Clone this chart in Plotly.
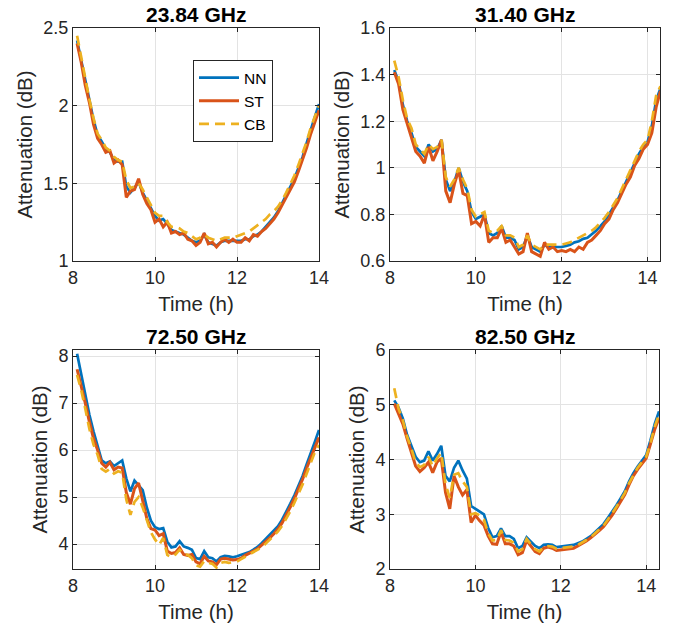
import numpy as np
import plotly.graph_objects as go

# ---- sample times (hours) ----
t_a = np.round(np.arange(8.1, 14.0001, 0.1), 2)   # 23.84 / 72.50 GHz runs
t_b = np.round(np.arange(8.1, 14.3001, 0.1), 2)   # 31.40 / 82.50 GHz runs

# ---- 23.84 GHz ----
nn_2384 = [2.42, 2.29, 2.15, 2.03, 1.91, 1.81, 1.77, 1.72, 1.70, 1.65,
           1.64, 1.64, 1.48, 1.44, 1.47, 1.51, 1.44, 1.39, 1.34, 1.29,
           1.26, 1.27, 1.24, 1.20, 1.19, 1.18, 1.17, 1.15, 1.13, 1.12,
           1.13, 1.17, 1.12, 1.11, 1.10, 1.12, 1.13, 1.13, 1.13, 1.13,
           1.13, 1.14, 1.14, 1.16, 1.17, 1.19, 1.22, 1.25, 1.28, 1.32,
           1.37, 1.42, 1.47, 1.53, 1.60, 1.67, 1.76, 1.85, 1.93, 2.01]
st_2384 = [2.40, 2.28, 2.13, 2.02, 1.88, 1.79, 1.75, 1.70, 1.71, 1.63,
           1.65, 1.62, 1.41, 1.45, 1.46, 1.53, 1.43, 1.37, 1.33, 1.25,
           1.27, 1.22, 1.25, 1.18, 1.19, 1.17, 1.18, 1.14, 1.13, 1.10,
           1.12, 1.18, 1.11, 1.12, 1.09, 1.12, 1.14, 1.12, 1.14, 1.12,
           1.12, 1.15, 1.13, 1.17, 1.16, 1.19, 1.21, 1.24, 1.27, 1.31,
           1.36, 1.40, 1.46, 1.51, 1.58, 1.65, 1.73, 1.82, 1.90, 1.97]
cb_2384 = [2.45, 2.31, 2.16, 2.04, 1.92, 1.82, 1.78, 1.73, 1.71, 1.67,
           1.65, 1.64, 1.52, 1.47, 1.48, 1.50, 1.46, 1.41, 1.36, 1.31,
           1.29, 1.29, 1.25, 1.22, 1.22, 1.21, 1.19, 1.18, 1.16, 1.14,
           1.15, 1.17, 1.15, 1.14, 1.13, 1.14, 1.15, 1.15, 1.15, 1.16,
           1.17, 1.18, 1.19, 1.21, 1.23, 1.25, 1.27, 1.30, 1.32, 1.35,
           1.39, 1.44, 1.49, 1.55, 1.62, 1.69, 1.77, 1.86, 1.93, 2.00]

# ---- 31.40 GHz ----
nn_3140 = [1.42, 1.37, 1.27, 1.20, 1.15, 1.09, 1.07, 1.05, 1.10, 1.07,
           1.08, 1.12, 0.95, 0.90, 0.94, 1.00, 0.94, 0.90, 0.81, 0.78,
           0.79, 0.80, 0.72, 0.71, 0.72, 0.75, 0.70, 0.70, 0.69, 0.65,
           0.66, 0.71, 0.66, 0.65, 0.64, 0.67, 0.66, 0.66, 0.66, 0.66,
           0.665, 0.67, 0.68, 0.685, 0.695, 0.70, 0.715, 0.73, 0.75, 0.77,
           0.80, 0.83, 0.86, 0.90, 0.94, 0.98, 1.02, 1.06, 1.09, 1.11,
           1.18, 1.29, 1.34]
st_3140 = [1.41, 1.36, 1.25, 1.19, 1.13, 1.07, 1.05, 1.02, 1.09, 1.03,
           1.07, 1.12, 0.90, 0.85, 0.93, 0.99, 0.89, 0.88, 0.76, 0.77,
           0.75, 0.80, 0.68, 0.70, 0.70, 0.74, 0.68, 0.69, 0.66, 0.63,
           0.64, 0.72, 0.64, 0.63, 0.62, 0.68, 0.65, 0.66, 0.64, 0.645,
           0.64, 0.65, 0.64, 0.66, 0.65, 0.68, 0.69, 0.71, 0.73, 0.76,
           0.78, 0.82, 0.85, 0.89, 0.93, 0.96, 1.01, 1.04, 1.08, 1.10,
           1.15, 1.26, 1.33]
cb_3140 = [1.46, 1.39, 1.29, 1.21, 1.17, 1.10, 1.08, 1.06, 1.10, 1.08,
           1.09, 1.12, 0.96, 0.92, 0.95, 1.00, 0.95, 0.91, 0.82, 0.79,
           0.80, 0.81, 0.73, 0.72, 0.73, 0.75, 0.71, 0.71, 0.70, 0.66,
           0.67, 0.71, 0.67, 0.66, 0.65, 0.67, 0.67, 0.67, 0.67, 0.67,
           0.675, 0.68, 0.69, 0.70, 0.71, 0.72, 0.73, 0.745, 0.765, 0.785,
           0.81, 0.84, 0.87, 0.91, 0.95, 0.99, 1.03, 1.07, 1.10, 1.12,
           1.20, 1.31, 1.35]

# ---- 72.50 GHz ----
nn_7250 = [8.05, 7.60, 7.20, 6.75, 6.40, 6.10, 5.78, 5.72, 5.76, 5.66,
           5.72, 5.78, 5.40, 5.12, 5.35, 5.25, 5.15, 4.78, 4.50, 4.36,
           4.32, 4.34, 4.05, 3.93, 3.95, 4.06, 3.95, 3.92, 3.88, 3.70,
           3.68, 3.85, 3.72, 3.70, 3.63, 3.72, 3.75, 3.74, 3.72, 3.74,
           3.77, 3.80, 3.83, 3.88, 3.94, 4.02, 4.11, 4.20, 4.28, 4.38,
           4.52, 4.68, 4.86, 5.04, 5.24, 5.45, 5.70, 5.92, 6.18, 6.43]
st_7250 = [7.72, 7.38, 7.00, 6.60, 6.25, 6.00, 5.72, 5.64, 5.74, 5.58,
           5.64, 5.62, 5.10, 4.85, 5.18, 5.30, 4.90, 4.55, 4.33, 4.30,
           4.18, 4.22, 3.85, 3.80, 3.82, 3.92, 3.78, 3.76, 3.78, 3.62,
           3.58, 3.74, 3.64, 3.62, 3.56, 3.68, 3.70, 3.68, 3.66, 3.67,
           3.70, 3.76, 3.80, 3.85, 3.90, 3.97, 4.05, 4.13, 4.22, 4.32,
           4.45, 4.61, 4.79, 4.97, 5.17, 5.38, 5.62, 5.85, 6.08, 6.27]
cb_7250 = [7.60, 7.28, 6.88, 6.45, 6.12, 5.90, 5.60, 5.54, 5.60, 5.50,
           5.55, 5.52, 4.95, 4.62, 4.90, 5.00, 4.78, 4.50, 4.25, 4.10,
           3.98, 4.13, 3.77, 3.72, 3.78, 3.88, 3.78, 3.77, 3.70, 3.55,
           3.52, 3.64, 3.60, 3.58, 3.50, 3.60, 3.62, 3.60, 3.62, 3.63,
           3.68, 3.73, 3.77, 3.82, 3.87, 3.93, 4.01, 4.09, 4.18, 4.27,
           4.39, 4.54, 4.70, 4.88, 5.07, 5.27, 5.50, 5.72, 5.96, 6.11]

# ---- 82.50 GHz ----
nn_8250 = [5.08, 4.95, 4.75, 4.45, 4.25, 4.05, 3.95, 3.98, 4.15, 3.98,
           4.10, 4.25, 3.70, 3.60, 3.85, 3.98, 3.80, 3.65, 3.15, 3.10,
           3.05, 3.00, 2.75, 2.58, 2.60, 2.74, 2.60, 2.60, 2.55, 2.38,
           2.42, 2.58, 2.50, 2.42, 2.38, 2.44, 2.45, 2.44, 2.40, 2.41,
           2.42, 2.43, 2.44, 2.47, 2.50, 2.55, 2.60, 2.67, 2.74, 2.82,
           2.93, 3.04, 3.16, 3.29, 3.42, 3.60, 3.75, 3.87, 3.98, 4.08,
           4.35, 4.65, 4.88]
st_8250 = [5.02, 4.85, 4.65, 4.38, 4.15, 3.88, 3.78, 3.85, 3.95, 3.76,
           3.95, 4.02, 3.40, 3.10, 3.70, 3.50, 3.35, 3.45, 2.85, 2.98,
           2.88, 2.80, 2.60, 2.46, 2.45, 2.68, 2.46, 2.46, 2.42, 2.26,
           2.30, 2.52, 2.42, 2.32, 2.28, 2.38, 2.40, 2.38, 2.34, 2.35,
           2.36, 2.37, 2.38, 2.42, 2.46, 2.51, 2.57, 2.63, 2.70, 2.77,
           2.87, 2.98, 3.10, 3.23, 3.36, 3.54, 3.70, 3.82, 3.93, 4.02,
           4.28, 4.55, 4.76]
cb_8250 = [5.30, 4.93, 4.72, 4.42, 4.20, 3.95, 3.86, 3.90, 4.05, 3.88,
           4.02, 4.12, 3.55, 3.30, 3.72, 3.75, 3.60, 3.50, 3.00, 3.02,
           2.98, 2.90, 2.65, 2.52, 2.53, 2.71, 2.53, 2.52, 2.48, 2.32,
           2.36, 2.55, 2.45, 2.36, 2.32, 2.40, 2.42, 2.41, 2.37, 2.38,
           2.39, 2.40, 2.41, 2.44, 2.48, 2.53, 2.58, 2.65, 2.72, 2.79,
           2.90, 3.01, 3.13, 3.26, 3.39, 3.57, 3.72, 3.85, 3.95, 4.05,
           4.30, 4.60, 4.82]

titles = ["23.84 GHz", "31.40 GHz", "72.50 GHz", "82.50 GHz"]
series_names = ["NN", "ST", "CB"]
colors = ["#0072BD", "#D95319", "#EDB120"]

panels = [
    (t_a, [nn_2384, st_2384, cb_2384]),
    (t_b, [nn_3140, st_3140, cb_3140]),
    (t_a, [nn_7250, st_7250, cb_7250]),
    (t_b, [nn_8250, st_8250, cb_8250]),
]

W, H = 677, 631
# plot-area boxes in pixels: (left, right, top, bottom)
boxes = [(73, 319, 28, 261), (390, 660, 28, 261),
         (73, 319, 350, 569), (390, 659, 350, 569)]
x_ranges = [[8, 14], [8, 14.29], [8, 14], [8, 14.3]]
y_ranges = [[1, 2.5], [0.6, 1.6], [3.47, 8.13], [2, 6]]
y_ticks = [[1, 1.5, 2, 2.5], [0.6, 0.8, 1, 1.2, 1.4, 1.6],
           [4, 5, 6, 7, 8], [2, 3, 4, 5, 6]]
y_ticktext = [["1", "1.5", "2", "2.5"], ["0.6", "0.8", "1", "1.2", "1.4", "1.6"],
              ["4", "5", "6", "7", "8"], ["2", "3", "4", "5", "6"]]

FONT = "Liberation Sans, Arial, sans-serif"
INK = "#262626"

fig = go.Figure()
layout = dict(
    width=W, height=H,
    margin=dict(l=0, r=0, t=0, b=0),
    paper_bgcolor="white", plot_bgcolor="white",
    font=dict(family=FONT, color=INK, size=18),
    annotations=[],
)

for i, ((tt, ys), title) in enumerate(zip(panels, titles)):
    n = i + 1
    xa = "x" if n == 1 else f"x{n}"
    ya = "y" if n == 1 else f"y{n}"
    for j, (vals, name, col) in enumerate(zip(ys, series_names, colors)):
        fig.add_trace(go.Scatter(
            x=tt, y=vals, mode="lines", name=name,
            xaxis=xa, yaxis=ya, showlegend=(i == 0),
            line=dict(color=col, width=3 if j == 1 else 2.7,
                      dash="10px,6px" if j == 2 else "solid"),
        ))
    l, r, t, b = boxes[i]
    common = dict(showline=True, linecolor=INK, linewidth=1, mirror="ticks",
                  ticks="inside", ticklen=4, tickcolor=INK, automargin=False,
                  showgrid=True, gridcolor="#e3e3e3", gridwidth=1,
                  zeroline=False, tickfont=dict(size=18, color=INK))
    layout["xaxis" + ("" if n == 1 else str(n))] = dict(
        common, domain=[l / W, r / W], range=x_ranges[i],
        anchor=ya, tickvals=[8, 10, 12, 14], ticktext=["8", "10", "12", "14"],
        title=dict(text="Time (h)", font=dict(size=20.5), standoff=10),
    )
    layout["yaxis" + ("" if n == 1 else str(n))] = dict(
        common, domain=[1 - b / H, 1 - t / H], range=y_ranges[i],
        anchor=xa, tickvals=y_ticks[i], ticktext=y_ticktext[i],
        title=dict(text="Attenuation (dB)", font=dict(size=20.5), standoff=5),
    )
    layout["annotations"].append(dict(
        text=f"<b>{title}</b>", xref="paper", yref="paper",
        x=(l + r) / 2 / W, y=1 - (t - 14) / H, xanchor="center", yanchor="middle",
        showarrow=False, font=dict(size=21, color="black", family=FONT),
    ))

layout["legend"] = dict(
    x=193 / W, y=1 - 60 / H, xanchor="left", yanchor="top",
    bgcolor="white", bordercolor=INK, borderwidth=1,
    font=dict(size=15.5, color="black"), itemwidth=40,
    tracegroupgap=0,
)

fig.update_layout(**layout)
fig.write_html("out.html")
